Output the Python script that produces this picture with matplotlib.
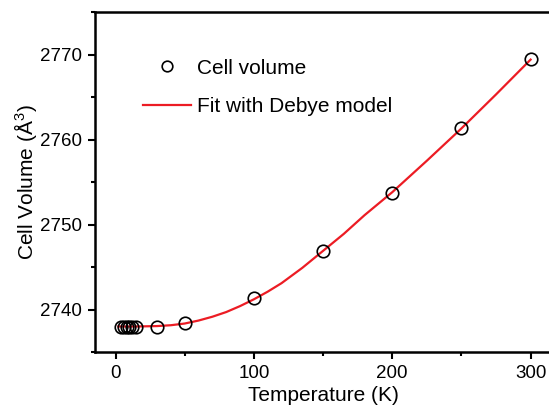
import numpy as np
import matplotlib
matplotlib.use("Agg")
import matplotlib.pyplot as plt
from matplotlib.ticker import MultipleLocator

plt.rcParams['font.family'] = ['Liberation Sans', 'DejaVu Sans']
plt.rcParams['mathtext.fontset'] = 'custom'
plt.rcParams['mathtext.rm'] = 'Liberation Sans'
plt.rcParams['mathtext.it'] = 'Liberation Sans:italic'

# measured cell volume
temp = [4, 6, 8, 10, 12, 15, 30, 50, 100, 150, 200, 250, 300]
volume = [2738.0, 2738.0, 2738.0, 2738.0, 2738.0, 2738.0, 2738.0, 2738.4,
          2741.4, 2746.9, 2753.7, 2761.3, 2769.5]

# Debye fit curve
fit_t = [2, 15, 30, 40, 50, 60, 70, 80, 90, 100, 110, 120, 135, 150, 165,
         180, 200, 225, 250, 275, 300]
fit_v = [2738.0, 2738.0, 2738.05, 2738.15, 2738.35, 2738.7, 2739.15, 2739.7,
         2740.4, 2741.2, 2742.1, 2743.1, 2744.9, 2746.9, 2748.9,
         2751.1, 2753.8, 2757.5, 2761.3, 2765.3, 2769.4]

fig = plt.figure(figsize=(5.49, 4.08), dpi=100)
# axes run past the right edge, like the cropped original
ax = fig.add_axes([94.5/549, 1 - 352/408, 470/549, 340/408])

ax.plot(fit_t, fit_v, color='#ec1c24', lw=1.6, label='Fit with Debye model', zorder=2)
ax.plot(temp, volume, 'o', ms=9, mfc='none', mec='black', mew=1.2,
        label='Cell volume', zorder=3)

ax.set_xlim(-15.2, 324.5)
ax.set_ylim(2735, 2775)
ax.xaxis.set_major_locator(MultipleLocator(100))
ax.xaxis.set_minor_locator(MultipleLocator(50))
ax.yaxis.set_minor_locator(MultipleLocator(5))
ax.set_yticks([2740, 2750, 2760, 2770])

for s in ax.spines.values():
    s.set_linewidth(1.8)
ax.tick_params(which='both', direction='out', width=1.5, top=False, right=False,
               labelsize=13.5)
ax.tick_params(which='major', length=5, pad=4)
ax.tick_params(which='minor', length=3)

ax.set_xlabel('Temperature (K)', fontsize=15)
ax.xaxis.set_label_coords(0.488, -0.1)
ax.set_ylabel('Cell Volume (Å$^3$)', fontsize=15, labelpad=1)

h, l = ax.get_legend_handles_labels()
ax.legend(h[::-1], l[::-1], loc='upper left', bbox_to_anchor=(0.063, 0.918),
          frameon=False, fontsize=15, handlelength=2.3, handletextpad=0.3,
          labelspacing=0.95, markerscale=0.85)

fig.savefig('out.png', dpi=100)
